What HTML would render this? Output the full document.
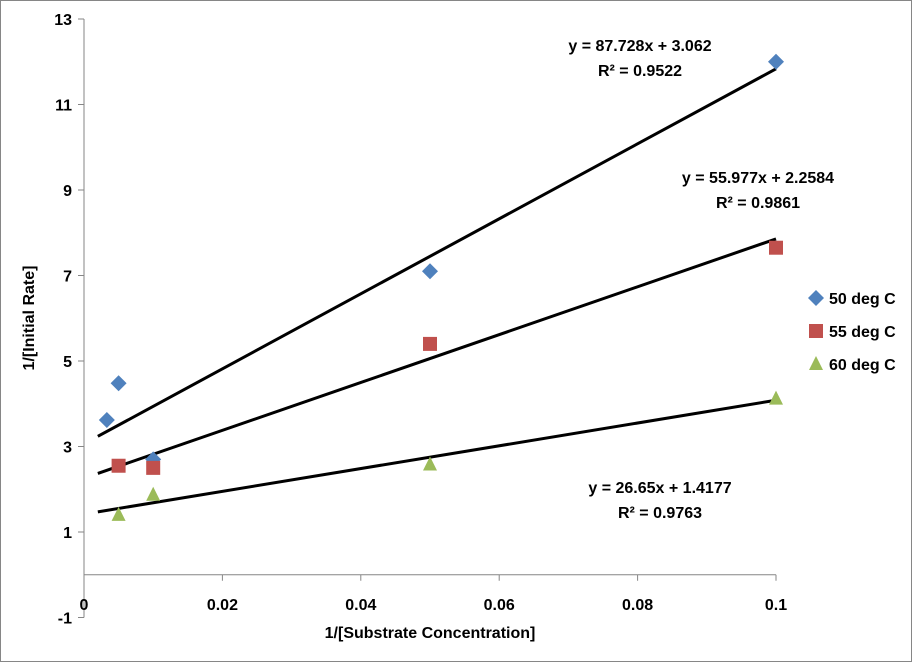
<!DOCTYPE html>
<html><head><meta charset="utf-8"><style>
body{margin:0;background:#fff}
svg{display:block;font-family:"Liberation Sans",Arial,sans-serif}
</style></head><body>
<svg id="c" width="913" height="663">
<rect x="0.5" y="0.5" width="911" height="661" fill="#fff" stroke="#868686"/>
<g id="g"></g>
</svg>
<script>
const xTicks=[0,0.02,0.04,0.06,0.08,0.1];
const xTickLabels=["0","0.02","0.04","0.06","0.08","0.1"];
const yTicks=[-1,1,3,5,7,9,11,13];
const x50=[0.0033,0.005,0.01,0.05,0.1];
const y50=[3.62,4.48,2.7,7.1,12.0];
const x55=[0.005,0.01,0.05,0.1];
const y55=[2.55,2.5,5.4,7.65];
const x60=[0.005,0.01,0.05,0.1];
const y60=[1.4,1.87,2.58,4.12];
const slopes=[87.728,55.977,26.65];
const intercepts=[3.062,2.2584,1.4177];
const eqLabels=["y = 87.728x + 3.062","y = 55.977x + 2.2584","y = 26.65x + 1.4177"];
const r2Labels=["R² = 0.9522","R² = 0.9861","R² = 0.9763"];
const seriesNames=["50 deg C","55 deg C","60 deg C"];
const trendRange=[0.002,0.1];

const X=v=>84+v*6920;
const Y=v=>532-(v-1)*42.75;
const g=document.getElementById('g');
const NS="http://www.w3.org/2000/svg";
function mk(t,a,txt){const e=document.createElementNS(NS,t);for(const k in a)e.setAttribute(k,a[k]);if(txt!==undefined)e.textContent=txt;g.appendChild(e);return e;}

let e=mk('line',{x1:84,y1:Y(13),x2:84,y2:Y(-1),stroke:'#868686'});


e=mk('line',{x1:84,y1:Y(0),x2:X(0.1),y2:Y(0),stroke:'#868686'});


yTicks.forEach(t=>{
  mk('line',{x1:78,y1:Y(t),x2:84,y2:Y(t),stroke:'#868686'});
  e=mk('text',{x:72,y:Y(t)+6,'text-anchor':'end','font-size':16,'font-weight':'bold'},String(t));
  
  
});
xTicks.forEach((t,i)=>{
  mk('line',{x1:X(t),y1:Y(0),x2:X(t),y2:Y(0)+6,stroke:'#868686'});
  e=mk('text',{x:X(t),y:610,'text-anchor':'middle','font-size':16,'font-weight':'bold'},xTickLabels[i]);
  
  
});
e=mk('text',{x:430,y:638,'text-anchor':'middle','font-size':16,'font-weight':'bold'},"1/[Substrate Concentration]");


e=mk('text',{x:0,y:0,'text-anchor':'middle','font-size':16,'font-weight':'bold',transform:'translate(34,318) rotate(-90)'},"1/[Initial Rate]");



// trendlines
slopes.forEach((m,i)=>{
  const b=intercepts[i];
  e=mk('line',{x1:X(trendRange[0]),y1:Y(m*trendRange[0]+b),x2:X(trendRange[1]),y2:Y(m*trendRange[1]+b),stroke:'#000','stroke-width':3});
  
  
});
function diamond(cx,cy,c){return mk('polygon',{points:`${cx},${cy-8} ${cx+8},${cy} ${cx},${cy+8} ${cx-8},${cy}`,fill:c});}
function square(cx,cy,c){return mk('rect',{x:cx-7,y:cy-7,width:14,height:14,fill:c});}
function tri(cx,cy,c){return mk('polygon',{points:`${cx},${cy-8} ${cx+7},${cy+6} ${cx-7},${cy+6}`,fill:c});}
x50.forEach((v,i)=>{e=diamond(X(v),Y(y50[i]),'#4f81bd');});
x55.forEach((v,i)=>{e=square(X(v),Y(y55[i]),'#c0504d');});
x60.forEach((v,i)=>{e=tri(X(v),Y(y60[i]),'#9bbb59');});

// equation labels
const eqPos=[[640,51],[758,183],[660,493]];
eqPos.forEach((p,i)=>{
  e=mk('text',{x:p[0],y:p[1],'text-anchor':'middle','font-size':16,'font-weight':'bold'},eqLabels[i]);
  
  
  e=mk('text',{x:p[0],y:p[1]+25,'text-anchor':'middle','font-size':16,'font-weight':'bold'},r2Labels[i]);
  
  
});
// legend
const mks=[diamond,square,tri],cols=['#4f81bd','#c0504d','#9bbb59'];
seriesNames.forEach((n,i)=>{
  const y=298+i*33;
  e=mks[i](816,y,cols[i]);
  
  
  e=mk('text',{x:829,y:y+6,'font-size':16,'font-weight':'bold'},n);
  
  
});
</script>
</body></html>
